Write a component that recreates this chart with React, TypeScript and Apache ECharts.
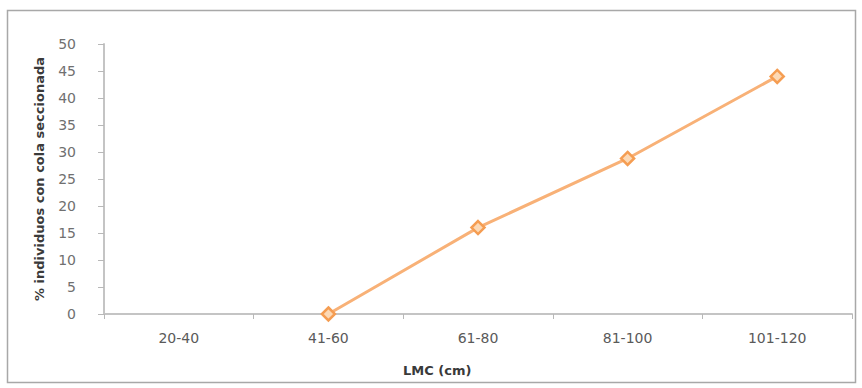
import React, { useEffect, useRef } from "react";
import * as echarts from "echarts";

// Length classes (LMC, cm)
const categories = ["20-40", "41-60", "61-80", "81-100", "101-120"];
// % of individuals with a severed tail per length class ("-" = no data)
const values: (number | string)[] = ["-", 0, 16, 28.8, 44];
const yTicks = { min: 0, max: 50, interval: 5 };

const FONT = "DejaVu Sans";

export default function App() {
  const ref = useRef<HTMLDivElement>(null);

  useEffect(() => {
    if (!ref.current) return;
    const chart = echarts.init(ref.current, null, { renderer: "svg" });
    chart.setOption({
      animation: false,
      backgroundColor: "#ffffff",
      grid: { left: 104, right: 10, top: 44, bottom: 74, containLabel: false },
      xAxis: {
        type: "category",
        data: categories,
        boundaryGap: true,
        axisLine: { lineStyle: { color: "#c4c4c4", width: 2 } },
        axisTick: { show: true, length: 5, alignWithLabel: false, lineStyle: { color: "#b8b8b8" } },
        axisLabel: { color: "#5a5a5a", fontSize: 14, fontFamily: FONT, margin: 17 },
        splitLine: { show: false },
      },
      yAxis: {
        type: "value",
        min: yTicks.min,
        max: yTicks.max,
        interval: yTicks.interval,
        name: "% individuos con cola seccionada",
        nameLocation: "middle",
        nameGap: 58,
        nameTextStyle: { color: "#3a3a3a", fontSize: 13, fontWeight: "bold", fontFamily: FONT },
        axisLine: { show: true, lineStyle: { color: "#c4c4c4", width: 2 } },
        axisTick: { show: true, length: 6, lineStyle: { color: "#b8b8b8" } },
        axisLabel: { color: "#707070", fontSize: 14, fontFamily: FONT, margin: 28 },
        splitLine: { show: false },
      },
      series: [
        {
          type: "line",
          data: values,
          connectNulls: false,
          symbol: "diamond",
          symbolSize: 13,
          lineStyle: { color: "#f8b177", width: 3 },
          itemStyle: { color: "#fcd9b6", borderColor: "#f59d52", borderWidth: 2.5 },
          z: 3,
        },
      ],
      graphic: [
        {
          type: "rect",
          shape: { x: 7.5, y: 10.5, width: 848, height: 372 },
          style: { fill: "none", stroke: "#a8a8a8", lineWidth: 1.5 },
          silent: true,
          z: -1,
        },
        {
          type: "text",
          x: 403,
          y: 370,
          style: {
            text: "LMC (cm)",
            fill: "#3a3a3a",
            font: `bold 13px "${FONT}"`,
            verticalAlign: "middle",
            align: "left",
          },
        },
      ],
    });
    return () => chart.dispose();
  }, []);

  return (
    <div
      ref={ref}
      style={{ position: "absolute", left: 0, top: 0, width: 862, height: 388 }}
    />
  );
}
